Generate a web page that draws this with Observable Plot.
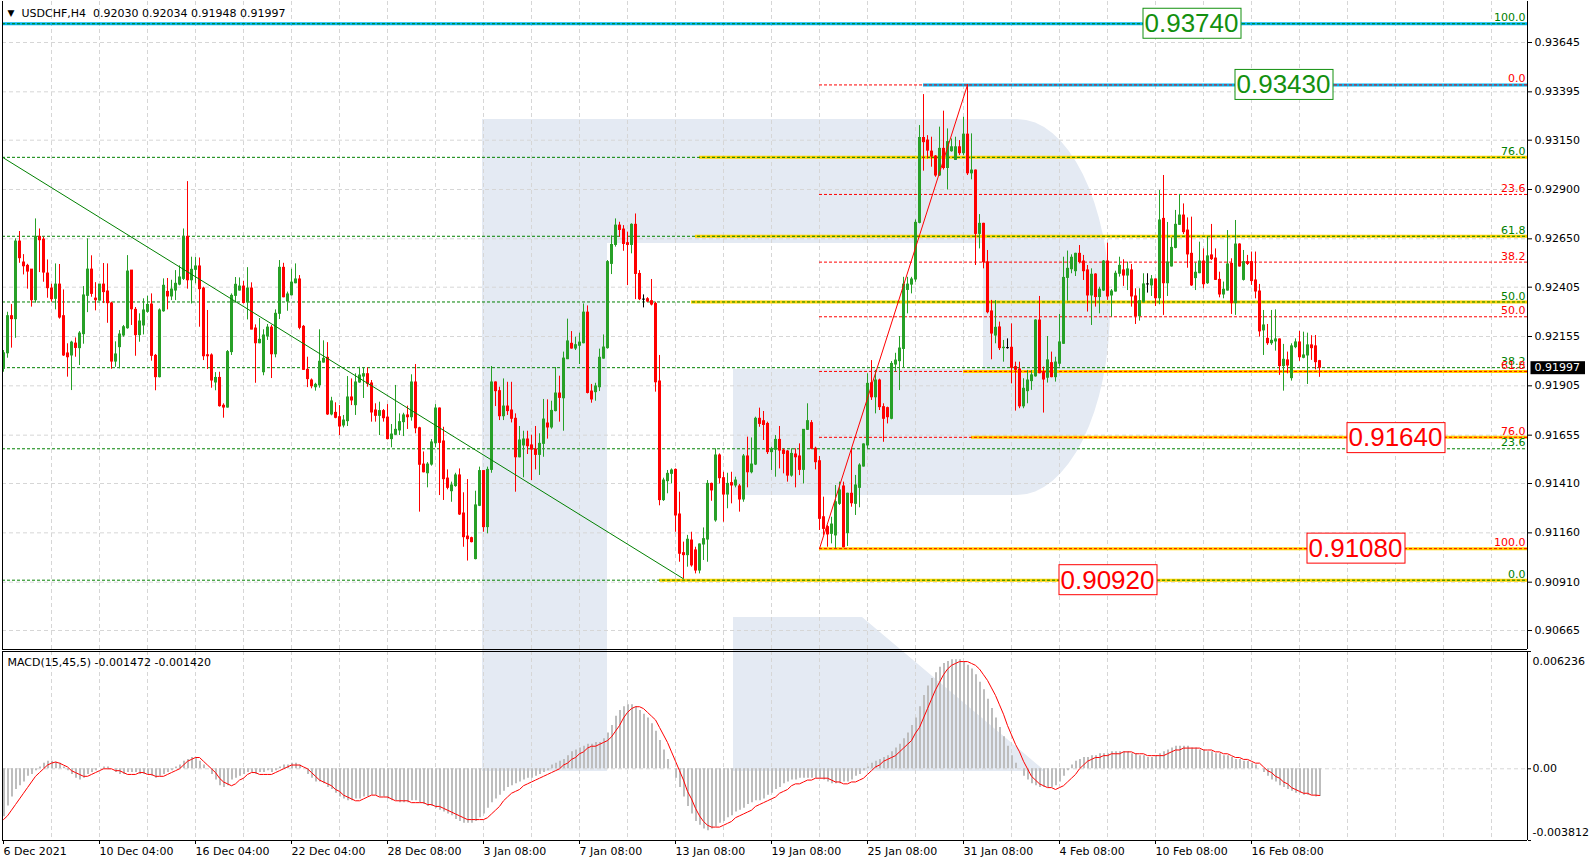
<!DOCTYPE html>
<html><head><meta charset="utf-8">
<script src="https://cdn.jsdelivr.net/npm/d3@7"></script>
<script src="https://cdn.jsdelivr.net/npm/@observablehq/plot@0.6"></script>
<style>
html,body{margin:0;padding:0;background:#fff;}
#wrap{position:relative;width:1591px;height:864px;overflow:hidden;}
#wrap > svg{position:absolute;left:0;}
</style></head><body><div id="wrap"></div>
<script>
// ---------- DATA (USDCHF H4) ----------
const opens=[
.91991,.92070,.92258,.92243,.92636,.92530,.92513,.92494,.92339,.92660,
.92646,.92474,.92398,.92346,.92418,.92258,.92069,.92059,.92119,.92096,
.92167,.92361,.92494,.92347,.92337,.92418,.92383,.92322,.92028,.92101,
.92160,.92197,.92489,.92290,.92162,.92211,.92280,.92317,.92057,.91949,
.92283,.92381,.92358,.92388,.92418,.92447,.92660,.92440,.92493,.92510,
.92398,.92060,.92059,.91922,.91945,.91804,.91795,.92076,.92361,.92388,
.92408,.92327,.92398,.92195,.92121,.91974,.92155,.92200,.92065,.92270,
.92503,.92332,.92364,.92425,.92444,.92204,.91986,.91932,.91898,.91908,
.92023,.92047,.91760,.91768,.91746,.91704,.91726,.91846,.91807,.91922,
.91952,.91964,.91917,.91780,.91753,.91777,.91744,.91635,.91657,.91679,
.91721,.91755,.91746,.91922,.91690,.91506,.91462,.91506,.91614,.91790,
.91623,.91435,.91371,.91397,.91451,.91258,.91141,.91133,.91027,.91297,
.91473,.91189,.91479,.91922,.91878,.91751,.91800,.91780,.91738,.91543,
.91603,.91633,.91603,.91582,.91555,.91611,.91714,.91694,.91777,.91866,
.91842,.92040,.92118,.92094,.92108,.92121,.92276,.91876,.91873,.91898,
.92043,.92096,.92523,.92619,.92717,.92697,.92628,.92619,.92721,.92472,
.92342,.92344,.92334,.92320,.91927,.91326,.91422,.91459,.91479,.91253,
.91057,.91047,.91121,.91071,.90969,.91101,.91126,.91408,.91223,.91552,
.91437,.91354,.91412,.91400,.91395,.91329,.91547,.91467,.91506,.91738,
.91726,.91712,.91569,.91581,.91631,.91577,.91572,.91450,.91557,.91547,
.91479,.91682,.91716,.91586,.91523,.91239,.91189,.91155,.91147,.91307,
.91395,.91158,.91358,.91307,.91388,.91496,.91603,.91918,.91847,.91932,
.91797,.91792,.91738,.92013,.92030,.92092,.92391,.92418,.92444,.92731,
.93161,.93148,.93092,.93067,.92971,.93106,.93009,.93094,.93050,.93114,
.93084,.93178,.92982,.92996,.92675,.92726,.92531,.92282,.92160,.92201,
.92096,.92096,.92098,.92000,.91988,.91801,.91878,.91929,.91953,.92236,
.91974,.91946,.92020,.91949,.92017,.92118,.92452,.92496,.92486,.92574,
.92535,.92490,.92363,.92469,.92355,.92388,.92535,.92363,.92383,.92473,
.92490,.92464,.92490,.92358,.92258,.92329,.92419,.92414,.92444,.92349,
.92751,.92425,.92510,.92604,.92721,.92768,.92692,.92574,.92451,.92476,
.92535,.92425,.92566,.92550,.92442,.92368,.92388,.92523,.92324,.92621,
.92442,.92532,.92532,.92439,.92383,.92186,.92143,.92121,.92130,.92140,
.92005,.92034,.91944,.92101,.92125,.92047,.92059,.92110,.92105,.92030];
const highs=[
.92084,.92278,.92317,.92650,.92687,.92570,.92521,.92494,.92751,.92700,
.92658,.92543,.92420,.92523,.92520,.92391,.92118,.92131,.92148,.92180,
.92408,.92650,.92564,.92428,.92418,.92525,.92523,.92329,.92128,.92185,
.92211,.92565,.92489,.92302,.92270,.92346,.92359,.92371,.92064,.92295,
.92447,.92449,.92440,.92489,.92513,.92700,.92940,.92557,.92555,.92553,
.92405,.92287,.92067,.91972,.91974,.91814,.92084,.92371,.92454,.92452,
.92435,.92504,.92427,.92214,.92246,.92189,.92216,.92211,.92290,.92540,
.92526,.92380,.92496,.92523,.92464,.92211,.92050,.91940,.91918,.92189,
.92133,.92124,.91847,.91819,.91805,.91755,.91952,.91940,.91966,.91999,
.91996,.91996,.91932,.91814,.91822,.91785,.91810,.91709,.91907,.91763,
.91766,.91802,.91961,.92013,.91695,.91570,.91516,.91633,.91810,.91793,
.91695,.91479,.91417,.91462,.91484,.91363,.91430,.91138,.91371,.91493,
.91473,.91493,.92003,.91925,.91898,.91940,.91923,.91923,.91763,.91699,
.91675,.91675,.91655,.91699,.91662,.91836,.91834,.91827,.91998,.91954,
.92076,.92243,.92180,.92152,.92172,.92320,.92310,.91912,.91918,.92091,
.92163,.92540,.92665,.92751,.92734,.92717,.92684,.92726,.92776,.92489,
.92366,.92352,.92444,.92329,.92059,.91437,.91476,.91484,.91484,.91366,
.91113,.91147,.91163,.91087,.91104,.91185,.91425,.91412,.91586,.91560,
.91467,.91462,.91467,.91442,.91405,.91557,.91645,.91641,.91746,.91792,
.91775,.91721,.91594,.91653,.91699,.91586,.91577,.91586,.91586,.91611,
.91682,.91814,.91729,.91594,.91547,.91341,.91197,.91239,.91400,.91417,
.91417,.91361,.91586,.91451,.91510,.91611,.91966,.92033,.91983,.91939,
.91814,.91797,.92028,.92070,.92155,.92455,.92455,.92455,.92746,.93224,
.93381,.93173,.93165,.93072,.93216,.93297,.93207,.93156,.93165,.93148,
.93266,.93432,.93182,.92999,.92773,.92729,.92591,.92338,.92337,.92228,
.92135,.92143,.92219,.92025,.92025,.91941,.91983,.91983,.92240,.92358,
.92000,.92155,.92076,.92050,.92267,.92557,.92588,.92569,.92577,.92616,
.92566,.92515,.92498,.92473,.92405,.92540,.92628,.92393,.92486,.92557,
.92544,.92532,.92520,.92397,.92397,.92473,.92473,.92464,.92447,.92895,
.92971,.92733,.92655,.92794,.92875,.92827,.92756,.92760,.92527,.92633,
.92599,.92659,.92723,.92599,.92481,.92431,.92692,.92549,.92743,.92625,
.92591,.92566,.92583,.92583,.92419,.92287,.92216,.92287,.92290,.92143,
.92115,.92076,.92118,.92143,.92181,.92177,.92172,.92159,.92160,.92034];
const lows=[
.91974,.92045,.92096,.92146,.92526,.92467,.92395,.92304,.92324,.92479,
.92430,.92349,.92329,.92290,.92243,.92054,.91949,.91881,.92050,.92008,
.92116,.92276,.92354,.92285,.92334,.92322,.92222,.91989,.91999,.91991,
.92151,.92192,.92211,.92055,.92126,.92163,.92273,.92030,.91880,.91945,
.92278,.92290,.92337,.92337,.92412,.92439,.92395,.92320,.92422,.92202,
.92033,.91988,.91893,.91880,.91797,.91741,.91792,.92059,.92324,.92385,
.92320,.92239,.92189,.91918,.92118,.91956,.92135,.91942,.92047,.92241,
.92351,.92283,.92361,.92422,.92189,.91983,.91896,.91890,.91878,.91893,
.92020,.91755,.91753,.91738,.91653,.91692,.91699,.91805,.91755,.91918,
.91841,.91898,.91721,.91721,.91653,.91721,.91631,.91591,.91653,.91653,
.91648,.91684,.91726,.91662,.91265,.91464,.91388,.91498,.91591,.91349,
.91324,.91378,.91315,.91391,.91248,.91087,.91017,.91109,.91023,.91293,
.91163,.91155,.91462,.91800,.91729,.91729,.91755,.91717,.91366,.91540,
.91439,.91557,.91425,.91479,.91451,.91543,.91635,.91685,.91773,.91721,
.91675,.92038,.92091,.92084,.92013,.92118,.91864,.91817,.91827,.91876,
.92040,.92091,.92469,.92608,.92658,.92587,.92413,.92574,.92342,.92337,
.92300,.92327,.92310,.91873,.91297,.91319,.91358,.91408,.91163,.91011,
.90927,.90986,.90986,.90952,.90952,.91020,.91011,.91320,.91214,.91408,
.91214,.91282,.91307,.91388,.91265,.91315,.91388,.91459,.91501,.91695,
.91628,.91557,.91476,.91442,.91484,.91459,.91417,.91442,.91388,.91450,
.91408,.91679,.91581,.91479,.91172,.91147,.91087,.91104,.91081,.91299,
.91084,.91091,.91290,.91248,.91287,.91493,.91586,.91831,.91763,.91780,
.91619,.91712,.91733,.91974,.91881,.91996,.92270,.92371,.92430,.92726,
.92993,.93055,.93013,.92962,.92966,.92999,.92898,.93089,.93047,.93072,
.93072,.92971,.92949,.92515,.92599,.92498,.92270,.92037,.92118,.92084,
.92025,.92091,.91915,.91777,.91789,.91789,.91814,.91882,.91949,.91966,
.91767,.91919,.91946,.91924,.92000,.92115,.92334,.92473,.92459,.92523,
.92439,.92279,.92211,.92304,.92270,.92383,.92338,.92253,.92380,.92456,
.92409,.92388,.92304,.92216,.92233,.92326,.92375,.92358,.92307,.92316,
.92262,.92358,.92507,.92599,.92718,.92672,.92501,.92409,.92388,.92473,
.92397,.92419,.92540,.92439,.92351,.92346,.92385,.92267,.92262,.92507,
.92436,.92515,.92414,.92346,.92152,.92059,.92110,.92110,.92081,.91958,
.91878,.91966,.91929,.92093,.92029,.92042,.91912,.92034,.91986,.91948];
const closes=[
.92070,.92258,.92243,.92636,.92552,.92511,.92484,.92339,.92660,.92643,
.92479,.92400,.92344,.92418,.92251,.92059,.92050,.92124,.92097,.92170,
.92363,.92494,.92371,.92339,.92418,.92380,.92324,.92028,.92064,.92165,
.92202,.92484,.92293,.92162,.92231,.92287,.92315,.92057,.91949,.92287,
.92412,.92358,.92393,.92422,.92454,.92660,.92440,.92493,.92510,.92395,
.92055,.92055,.91932,.91945,.91802,.91795,.92076,.92361,.92417,.92408,
.92325,.92398,.92190,.92121,.92138,.92160,.92200,.92065,.92270,.92503,
.92354,.92368,.92428,.92444,.92199,.91986,.91939,.91903,.91910,.92027,
.92042,.91760,.91826,.91743,.91699,.91729,.91846,.91831,.91922,.91957,
.91964,.91915,.91770,.91753,.91777,.91741,.91635,.91658,.91682,.91721,
.91755,.91746,.91922,.91690,.91505,.91467,.91506,.91618,.91790,.91616,
.91432,.91388,.91400,.91451,.91253,.91138,.91128,.91113,.91299,.91473,
.91189,.91479,.91922,.91878,.91751,.91800,.91777,.91738,.91543,.91628,
.91633,.91599,.91582,.91555,.91611,.91734,.91694,.91778,.91866,.91844,
.92043,.92130,.92094,.92111,.92124,.92276,.91869,.91836,.91902,.92047,
.92099,.92532,.92619,.92717,.92695,.92624,.92619,.92721,.92472,.92344,
.92342,.92332,.92317,.91923,.91326,.91425,.91459,.91476,.91248,.91054,
.91047,.91125,.90995,.90969,.91101,.91128,.91408,.91375,.91552,.91437,
.91354,.91408,.91400,.91425,.91329,.91547,.91467,.91506,.91738,.91712,
.91707,.91569,.91584,.91631,.91577,.91560,.91450,.91560,.91543,.91479,
.91682,.91726,.91586,.91518,.91231,.91180,.91152,.91202,.91315,.91375,
.91087,.91358,.91310,.91400,.91501,.91608,.91915,.91847,.91932,.91797,
.91738,.91746,.92016,.92033,.92094,.92418,.92418,.92444,.92731,.93161,
.93140,.93097,.93067,.92971,.93106,.93009,.93140,.93114,.93114,.93084,
.93178,.92982,.92996,.92675,.92726,.92531,.92278,.92170,.92199,.92096,
.92098,.92096,.91996,.91986,.91801,.91890,.91932,.91958,.92236,.91969,
.91937,.92034,.91949,.92023,.92125,.92452,.92498,.92554,.92574,.92532,
.92486,.92363,.92468,.92355,.92392,.92535,.92358,.92383,.92473,.92513,
.92464,.92495,.92358,.92258,.92334,.92419,.92419,.92444,.92349,.92743,
.92425,.92530,.92604,.92721,.92768,.92684,.92571,.92414,.92478,.92535,
.92420,.92561,.92547,.92442,.92368,.92392,.92520,.92324,.92621,.92510,
.92532,.92523,.92436,.92383,.92181,.92211,.92121,.92133,.92140,.92005,
.92037,.92008,.92105,.92125,.92050,.92059,.92110,.92096,.92025,.91997];

// MACD(15,45,5): main (histogram) and signal
const macdMain=[
-.00255,-.00198,-.0015,-.0011,-.0009,-.0007,-.0004,-.0003,-.0001,.0001,
.0003,.0004,.0004,.00035,.0003,.0001,-.0001,-.0003,-.0005,-.0006,
-.0005,-.0003,-.0002,-.0001,0,.0001,.0001,0,-.0002,-.0003,
-.0003,-.0002,-.0002,-.0002,-.0003,-.0003,-.0003,-.0004,-.0005,-.0004,
-.0003,-.0002,-.0001,.0001,.0002,.0004,.0005,.0006,.0006,.0004,
.0002,0,-.0003,-.0006,-.0009,-.0010,-.0009,-.0006,-.0005,-.0004,
-.0003,-.0002,-.0002,-.0003,-.0002,-.0002,-.0001,-.0002,-.0001,.0001,
.0002,.0002,.0003,.0003,.0002,0,-.0003,-.0005,-.0007,-.0007,
-.0008,-.0010,-.0011,-.0013,-.0015,-.0016,-.0017,-.0017,-.0016,-.0016,
-.0015,-.0015,-.0014,-.0014,-.0015,-.0015,-.0016,-.0017,-.0017,-.0018,
-.0018,-.0018,-.0017,-.0017,-.0018,-.0019,-.0020,-.0020,-.0021,-.0022,
-.0023,-.0024,-.0025,-.0027,-.0028,-.0029,-.0029,-.0029,-.0028,-.0026,
-.0024,-.0021,-.0018,-.0016,-.0014,-.0012,-.0010,-.0009,-.0008,-.0007,
-.0006,-.0005,-.0005,-.0004,-.0003,-.0002,-.0001,.0002,.0003,.0004,
.0005,.0007,.0009,.0010,.0011,.0012,.0013,.0013,.0014,.0014,
.0016,.0019,.0023,.0028,.0031,.0033,.0034,.0034,.0033,.0031,
.0029,.0027,.0024,.0020,.0015,.0010,.0005,0,-.0005,-.0010,
-.0015,-.0020,-.0024,-.0028,-.0030,-.0032,-.0033,-.0032,-.0031,-.0029,
-.0028,-.0026,-.0025,-.0023,-.0022,-.0021,-.0019,-.0018,-.0017,-.0017,
-.0016,-.0014,-.0013,-.0011,-.0010,-.0008,-.0007,-.0006,-.0006,-.0005,
-.0005,-.0005,-.0005,-.0005,-.0005,-.0006,-.0007,-.0008,-.0008,-.0008,
-.0007,-.0007,-.0006,-.0004,-.0003,-.0001,.0001,.0003,.0004,.0005,
.0006,.0007,.0009,.0011,.0013,.0016,.0019,.0023,.0027,.0033,
.0039,.0044,.0048,.0051,.0054,.0056,.0057,.0058,.0058,.0058,
.0057,.0055,.0053,.0050,.0046,.0042,.0037,.0032,.0027,.0022,
.0017,.0012,.0007,.0003,0,-.0004,-.0006,-.0008,-.0009,-.0010,
-.0010,-.0010,-.0010,-.0009,-.0007,-.0004,-.0001,.0002,.0004,.0005,
.0006,.0006,.0007,.0007,.0008,.0008,.0008,.0009,.0009,.0009,
.0009,.0009,.0008,.0008,.0007,.0007,.0006,.0006,.0007,.0008,
.0009,.0010,.0011,.0012,.0012,.0012,.0012,.0011,.0011,.0010,
.0010,.0009,.0009,.0008,.0008,.0007,.0007,.0006,.0005,.0005,
.0004,.0004,.0003,.0002,0,-.0002,-.0004,-.0006,-.0007,-.0009,
-.0010,-.0011,-.0012,-.0013,-.0013,-.0014,-.0014,-.0014,-.0015,-.001472];
const macdSignal=[
-.0027,-.0025,-.0022,-.0019,-.0016,-.0013,-.0010,-.0007,-.0004,-.0002,
0,.0002,.0003,.00036,.0003,.0002,.0001,-.0001,-.0002,-.0003,
-.0004,-.0004,-.0003,-.0002,-.0001,0,0,0,-.0001,-.0001,
-.0002,-.0003,-.0003,-.0003,-.0002,-.0002,-.0003,-.0003,-.0004,-.0004,
-.0004,-.0003,-.0002,-.0001,0,.0002,.0004,.0005,.0006,.0006,
.0004,.0002,0,-.0002,-.0005,-.0007,-.0008,-.0009,-.0008,-.0006,
-.0005,-.0003,-.0002,-.0002,-.0003,-.0003,-.0003,-.0003,-.0002,-.0001,
0,.0001,.0002,.0002,.0002,.0001,0,-.0002,-.0004,-.0006,
-.0007,-.0008,-.0009,-.0011,-.0012,-.0014,-.0015,-.0016,-.0017,-.0017,
-.0016,-.0015,-.0014,-.0014,-.0015,-.0015,-.0015,-.0016,-.0017,-.0017,
-.0017,-.0017,-.0018,-.0018,-.0018,-.0018,-.0019,-.0019,-.0020,-.0020,
-.0021,-.0022,-.0023,-.0024,-.0025,-.0026,-.0027,-.0027,-.0027,-.0027,
-.0027,-.0026,-.0024,-.0022,-.0020,-.0017,-.0015,-.0013,-.0012,-.0011,
-.0009,-.0008,-.0007,-.0006,-.0005,-.0004,-.0003,-.0002,-.0001,0,
.0002,.0003,.0005,.0006,.0008,.0009,.0011,.0012,.0012,.0013,
.0014,.0015,.0017,.0020,.0023,.0027,.0030,.0032,.0033,.0033,
.0032,.0030,.0028,.0026,.0022,.0018,.0014,.0009,.0004,-.0001,
-.0006,-.0012,-.0016,-.0021,-.0025,-.0028,-.0030,-.0031,-.0031,-.0031,
-.0030,-.0029,-.0028,-.0026,-.0025,-.0024,-.0023,-.0022,-.0020,-.0019,
-.0018,-.0017,-.0016,-.0015,-.0013,-.0012,-.0011,-.0009,-.0008,-.0008,
-.0007,-.0006,-.0006,-.0005,-.0005,-.0005,-.0005,-.0006,-.0007,-.0007,
-.0008,-.0008,-.0007,-.0007,-.0006,-.0005,-.0003,-.0001,.0001,.0002,
.0004,.0005,.0006,.0007,.0009,.0011,.0013,.0015,.0019,.0022,
.0027,.0032,.0037,.0042,.0046,.0050,.0053,.0055,.0056,.0057,
.0057,.0057,.0056,.0055,.0053,.0050,.0047,.0043,.0039,.0034,
.0029,.0023,.0018,.0013,.0009,.0004,0,-.0004,-.0006,-.0008,
-.0009,-.0010,-.0010,-.0011,-.0010,-.0009,-.0007,-.0005,-.0003,0,
.0002,.0004,.0005,.0006,.0006,.0007,.0007,.0008,.0008,.0008,
.0009,.0009,.0009,.0008,.0008,.0008,.0007,.0007,.0007,.0007,
.0007,.0008,.0009,.0010,.0010,.0011,.0011,.0011,.0011,.0011,
.0010,.0010,.0010,.0009,.0009,.0008,.0008,.0007,.0006,.0006,
.0005,.0005,.0004,.0003,.0003,.0001,-.0001,-.0002,-.0004,-.0005,
-.0007,-.0008,-.0010,-.0011,-.0012,-.0013,-.0013,-.0014,-.0014,-.00142];

const priceTicks=[0.93645,0.93395,0.93150,0.92900,0.92650,0.92405,0.92155,0.91905,0.91655,0.91410,0.91160,0.90910,0.90665];
const timeTickBars=[0,24,48,72,96,120,144,168,192,216,240,264,288,312];
const timeLabels=["6 Dec 2021","10 Dec 04:00","16 Dec 04:00","22 Dec 04:00","28 Dec 08:00","3 Jan 08:00","7 Jan 08:00","13 Jan 08:00","19 Jan 08:00","25 Jan 08:00","31 Jan 08:00","4 Feb 08:00","10 Feb 08:00","16 Feb 08:00"];
const fibLabels=["0.0","23.6","38.2","50.0","61.8","76.0","100.0"];
const greenFibPrices=[0.90920,0.91586,0.91997,0.92330,0.92663,0.93063,0.93740];
const redFibPrices=[0.93430,0.92875,0.92532,0.92255,0.91978,0.91644,0.91080];
const redFibStartBar=204;
const levelPrices=[0.93740,0.93430,0.93063,0.92663,0.92330,0.91978,0.91644,0.91080,0.90920];
const levelStartBars=[null,230,174,173,172,240,242,204,164];
const levelKinds=["blue","blue","gold","gold","gold","gold","gold","gold","gold"];
const boxTexts=["0.93740","0.93430","0.91640","0.91080","0.90920"];
const boxPrices=[0.93740,0.93430,0.91640,0.91080,0.90920];
const boxBars=[297,320,348,338,276];
const boxKinds=["green","green","red","red","red"];
const greenTrendBars=[0,170], greenTrendPrices=[0.93060,0.90927];
const redTrendBars=[204,241], redTrendPrices=[0.91080,0.93430];
const titleText="USDCHF,H4\u00a0\u00a00.92030 0.92034 0.91948 0.91997";
const macdTitle="MACD(15,45,5) -0.001472 -0.001420";
const macdRange=[-0.003812,0.006236];

// ---------- STYLE ----------
const UP="#27a027", DOWN="#ff0000", GRID="#d6d6d6";
const FIBG="#008000", FIBR="#ff0000";
const KIND={blue:"#00b4f0",gold:"#ffd200",green:"#13900f",red:"#ff0000"};
const xDom=[-0.25,381];
const yDom=[0.905688,0.938528];
const gridBars=d3.range(12,381,12);

const N=closes.length;
const bars=d3.range(N).map(i=>({i,o:opens[i],h:highs[i],l:lows[i],c:closes[i]}));
const col=d=>d.c>d.o?UP:(d.c<d.o?DOWN:"#000");
const levels=levelPrices.map((p,k)=>({p,s:levelStartBars[k]==null?xDom[0]:levelStartBars[k],k:levelKinds[k]}));
const lastText=closes[N-1].toFixed(5);

const wrap=document.getElementById("wrap");
// watermark logo (decoration)
wrap.insertAdjacentHTML("beforeend",`<svg width="1591" height="864" style="top:0"><path fill="#e4eaf3" d="M482,119H1017A93,188 0 0 1 1017,495H733V369H983V243H607V771H482Z M733,617H862L1045,771H733Z"/></svg>`);

const common={width:1591,marginLeft:2,marginRight:64,
  style:{background:"transparent",fontFamily:"DejaVu Sans",fontSize:"11px",overflow:"visible",color:"#000"}};

const main=Plot.plot({...common,height:650,marginTop:1,marginBottom:1,
  x:{domain:xDom,axis:null},y:{domain:yDom,axis:null},color:{type:"identity"},
  marks:[
    Plot.ruleY(priceTicks,{stroke:GRID,strokeDasharray:"4,3"}),
    Plot.ruleX(gridBars,{stroke:GRID,strokeDasharray:"4,3"}),
    Plot.ruleY(levels,{y:"p",x1:"s",x2:()=>xDom[1],stroke:d=>KIND[d.k],strokeWidth:3}),
    Plot.ruleY(greenFibPrices,{stroke:FIBG,strokeDasharray:"3,2"}),
    Plot.ruleY(redFibPrices,{y:d=>d,x1:()=>redFibStartBar,x2:()=>xDom[1],stroke:FIBR,strokeDasharray:"3,2"}),
    Plot.ruleX(bars,{x:"i",y1:"l",y2:"h",stroke:col,strokeWidth:1}),
    Plot.ruleX(bars,{x:"i",y1:d=>Math.max(d.o,d.c),y2:d=>Math.min(d.o,d.c),stroke:col,strokeWidth:3,insetTop:-0.5,insetBottom:-0.5}),
    Plot.line(greenTrendBars,{x:d=>d,y:(d,i)=>greenTrendPrices[i],stroke:FIBG,strokeWidth:1}),
    Plot.line(redTrendBars,{x:d=>d,y:(d,i)=>redTrendPrices[i],stroke:FIBR,strokeWidth:1}),
    Plot.text(greenFibPrices,{x:()=>xDom[1],y:d=>d,text:(d,i)=>fibLabels[i],fill:FIBG,textAnchor:"end",dx:-2,dy:-6,lineAnchor:"middle"}),
    Plot.text(redFibPrices,{x:()=>xDom[1],y:d=>d,text:(d,i)=>fibLabels[i],fill:FIBR,textAnchor:"end",dx:-2,dy:-6,lineAnchor:"middle"}),
    Plot.text(boxPrices,{x:(d,i)=>boxBars[i],y:d=>d,text:(d,i)=>boxTexts[i],fill:(d,i)=>KIND[boxKinds[i]],fontSize:26,fontFamily:"Liberation Sans",textAnchor:"middle",lineAnchor:"middle"}),
    Plot.ruleX([xDom[0],xDom[1]],{stroke:"#000"}),
    Plot.ruleY([yDom[0]],{stroke:"#000"}),
    Plot.axisY({anchor:"right",ticks:priceTicks,tickFormat:d=>d.toFixed(5),tickSize:4,tickPadding:3,label:null}),
    Plot.text([closes[N-1]],{x:()=>xDom[1],y:d=>d,text:d=>d.toFixed(5),fill:"#fff",textAnchor:"start",dx:7,lineAnchor:"middle"}),
    Plot.text(["\u25BC"],{frameAnchor:"top-left",dx:5,dy:12,fontSize:9,textAnchor:"start",lineAnchor:"middle"}),
    Plot.text([titleText],{frameAnchor:"top-left",dx:19,dy:12,textAnchor:"start",lineAnchor:"middle"})
  ]});
main.style.top="0px";
wrap.appendChild(main);

const macd=Plot.plot({...common,height:214,marginTop:1,marginBottom:24,
  x:{domain:xDom,axis:null},y:{domain:macdRange,axis:null},
  marks:[
    Plot.ruleX(gridBars,{stroke:GRID,strokeDasharray:"4,3"}),
    Plot.ruleY([0],{stroke:GRID,strokeDasharray:"4,3"}),
    Plot.ruleX(macdMain,{x:(d,i)=>i,y1:0,y2:d=>d,stroke:"#bdbdbd",strokeWidth:2,dx:0.5}),
    Plot.line(macdSignal,{x:(d,i)=>i,y:d=>d,stroke:"#ff0000",strokeWidth:1}),
    Plot.ruleX([xDom[0],xDom[1]],{stroke:"#000"}),
    Plot.ruleY(macdRange,{stroke:"#000"}),
    Plot.axisX({ticks:timeTickBars,tickFormat:d=>timeLabels[timeTickBars.indexOf(d)],textAnchor:"start",tickSize:4,tickPadding:3,label:null}),
    Plot.axisY({anchor:"right",ticks:[macdRange[1],0,macdRange[0]],tickFormat:()=>"",tickSize:3,label:null}),
    Plot.text([macdRange[1]],{x:()=>xDom[1],y:d=>d,text:d=>d.toFixed(6),textAnchor:"start",dx:5,dy:10,lineAnchor:"middle"}),
    Plot.text([0],{x:()=>xDom[1],y:d=>d,text:d=>d.toFixed(2),textAnchor:"start",dx:5,lineAnchor:"middle"}),
    Plot.text([macdRange[0]],{x:()=>xDom[1],y:d=>d,text:d=>d.toFixed(6),textAnchor:"start",dx:5,dy:-8,lineAnchor:"middle"}),
    Plot.text([macdTitle],{frameAnchor:"top-left",dx:5,dy:11,textAnchor:"start",lineAnchor:"middle"})
  ]});
macd.style.top="650px";
wrap.appendChild(macd);

// boxes behind the big labels and the last-price tag
const NS="http://www.w3.org/2000/svg";
function addRect(t,x,y,w,h,fill,stroke){
  const r=document.createElementNS(NS,"rect");
  r.setAttribute("x",x);r.setAttribute("y",y);r.setAttribute("width",w);r.setAttribute("height",h);
  r.setAttribute("fill",fill);if(stroke){r.setAttribute("stroke",stroke);r.setAttribute("stroke-width","1");}
  if(t.getAttribute("transform"))r.setAttribute("transform",t.getAttribute("transform"));
  t.parentNode.insertBefore(r,t);
}
Array.from(main.querySelectorAll("text")).forEach(t=>{
  const s=t.textContent.trim();
  const b=t.getBBox();
  if(boxTexts.includes(s)&&b.height>20){
    const c=t.getAttribute("fill")||t.parentNode.getAttribute("fill")||"#000";
    addRect(t,Math.round(b.x-2)+0.5,Math.round(b.y)+0.5,Math.round(b.width+4),Math.round(b.height),"#fff",c);
  } else if(s===lastText && b.height<20 && (t.getAttribute("fill")==="#fff"||t.parentNode.getAttribute("fill")==="#fff")){
    addRect(t,b.x-4,b.y,b.width+9,b.height,"#000",null);
  }
});
</script></body></html>
